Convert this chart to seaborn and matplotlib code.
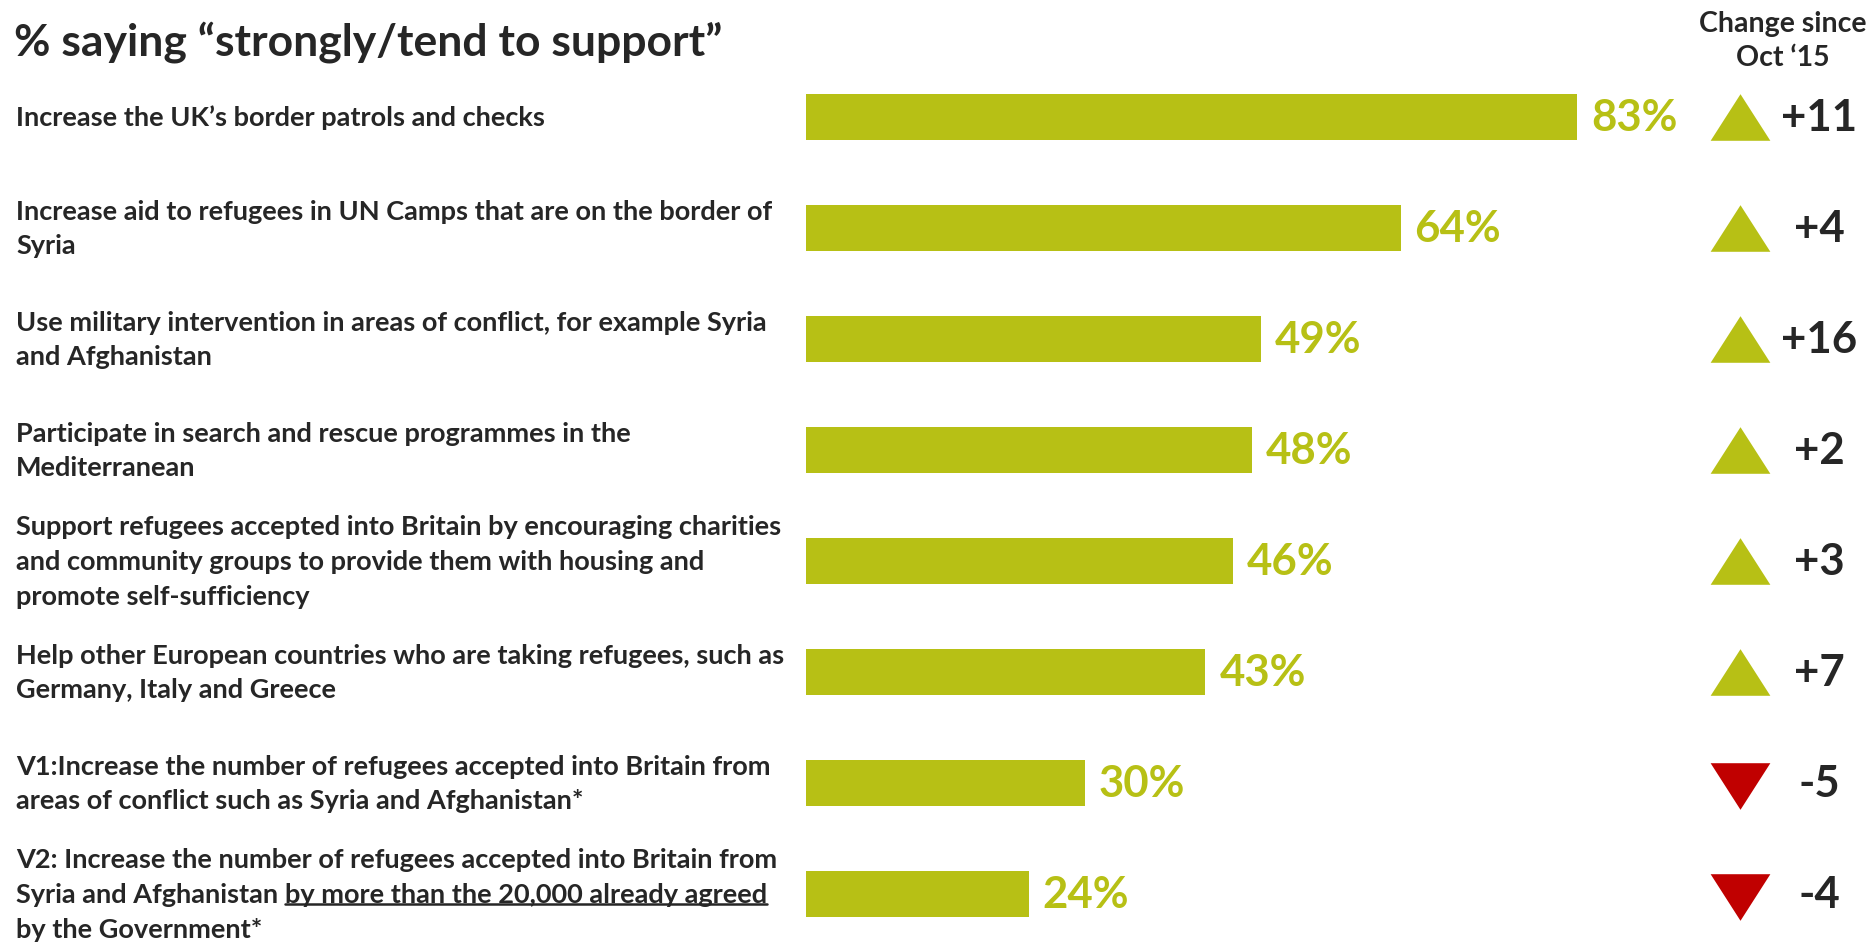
import matplotlib
matplotlib.use("Agg")
import matplotlib.pyplot as plt
from matplotlib.lines import Line2D
from matplotlib.transforms import blended_transform_factory
import seaborn as sns

# chart data
items = [
    "Increase the UK\u2019s border patrols and checks",
    "Increase aid to refugees in UN Camps that are on the border of\nSyria",
    "Use military intervention in areas of conflict, for example Syria\nand Afghanistan",
    "Participate in search and rescue programmes in the\nMediterranean",
    "Support refugees accepted into Britain by encouraging charities\nand community groups to provide them with housing and\npromote self-sufficiency",
    "Help other European countries who are taking refugees, such as\nGermany, Italy and Greece",
    "V1:Increase the number of refugees accepted into Britain from\nareas of conflict such as Syria and Afghanistan*",
    "V2: Increase the number of refugees accepted into Britain from\nSyria and Afghanistan by more than the 20,000 already agreed\nby the Government*",
]
support = [83, 64, 49, 48, 46, 43, 30, 24]
change = [11, 4, 16, 2, 3, 7, -5, -4]
underlined = "by more than the 20,000 already agreed"

title = "% saying \u201cstrongly/tend to support\u201d"
change_header = "Change since\nOct \u201815"

green = "#B7C015"
red = "#C00000"
dark = "#262626"

sns.set_style("white")
plt.rcParams["font.family"] = ["Lato", "DejaVu Sans"]

W, H = 1874, 945
fig = plt.figure(figsize=(W / 100, H / 100), dpi=100)
ax = fig.add_axes([806 / W, 0, 1 - 806 / W, 1])

sns.barplot(x=support, y=items, orient="h", color=green, width=0.41,
            linewidth=0, saturation=1, ax=ax)
ax.set_xlim(0, (W - 806) / 9.29)
ax.set_ylim(7.45, -1.063)
ax.axis("off")

ax.bar_label(ax.containers[0], labels=[f"{v}%" for v in support], padding=10,
             color=green, fontsize=31.5, fontweight="bold")

# triangles and change numbers
up = [(-1, -0.78), (1, -0.78), (0, 0.78)]
down = [(-1, 0.78), (1, 0.78), (0, -0.78)]
xt = (1740 - 806) / 9.29
xn = (1819 - 806) / 9.29
for i, c in enumerate(change):
    if c >= 0:
        ax.scatter([xt], [i], marker=up, s=43 ** 2, color=green, linewidth=0, clip_on=False)
        txt = f"+{c}"
    else:
        ax.scatter([xt], [i + 0.03], marker=down, s=43 ** 2, color=red, linewidth=0, clip_on=False)
        txt = f"{c}"
    ax.text(xn, i, txt, ha="center", va="center", fontsize=31.5, fontweight="bold", color=dark)

# row labels on the left
tr = blended_transform_factory(fig.transFigure, ax.transData)
ls = 25  # points between lines
fs = 19.5
under_text = None
for i, lab in enumerate(items):
    lines = lab.split("\n")
    n = len(lines)
    for k, line in enumerate(lines):
        off = ((n - 1) / 2 - k) * ls
        if underlined in line:
            pre = line.split(underlined)[0]
            t1 = ax.annotate(pre, xy=(16 / W, i), xycoords=tr, xytext=(0, off),
                             textcoords="offset points", va="center", ha="left",
                             fontsize=fs, fontweight="bold", color=dark)
            under_text = ax.annotate(underlined, xy=(1, 0), xycoords=t1, va="bottom", ha="left",
                                     fontsize=fs, fontweight="bold", color=dark)
        else:
            ax.annotate(line, xy=(16 / W, i), xycoords=tr, xytext=(0, off),
                        textcoords="offset points", va="center", ha="left",
                        fontsize=fs, fontweight="bold", color=dark)

fig.text(14 / W, 1 - 42 / H, title, ha="left", va="center", fontsize=32,
         fontweight="bold", color=dark)
fig.text(1783 / W, 1 - 41 / H, change_header, ha="center", va="center", fontsize=20.5,
         fontweight="bold", color=dark, linespacing=1.4)

# underline part of the last label
fig.canvas.draw()
bb = under_text.get_window_extent()
y0 = (bb.y0 + 2) / H
fig.add_artist(Line2D([bb.x0 / W, bb.x1 / W], [y0, y0], color=dark, linewidth=1.8,
                      transform=fig.transFigure))

fig.savefig("out.png", dpi=100)
